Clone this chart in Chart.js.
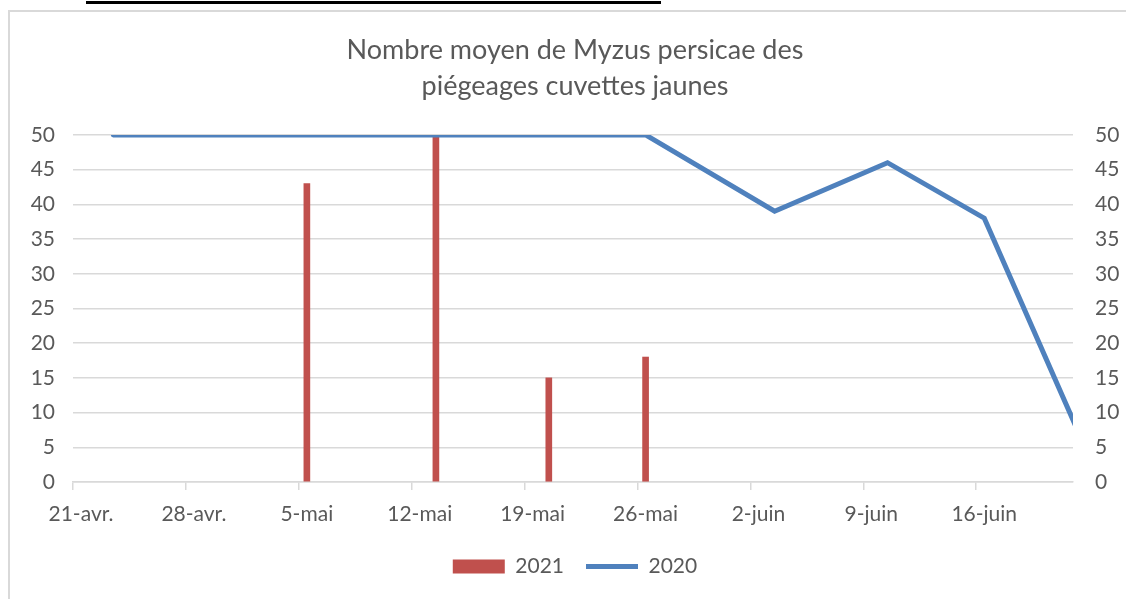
<!DOCTYPE html>
<html>
<head>
<meta charset="utf-8">
<script src="https://cdn.jsdelivr.net/npm/chart.js@4.4.1/dist/chart.umd.min.js"></script>
<style>
  html, body { margin: 0; padding: 0; background: #fff; overflow: hidden; }
  #rule { position: absolute; left: 86px; top: 1px; width: 575px; height: 3px; background: #000; }
  #frame { position: absolute; left: 8px; top: 10px; width: 1300px; height: 800px;
           border-left: 2px solid #d9d9d9; border-top: 2px solid #d9d9d9; }
  #wrap { position: absolute; left: 8px; top: 0; width: 1134px; height: 599px; }
</style>
</head>
<body>
<div id="rule"></div>
<div id="frame"></div>
<div id="wrap"><canvas id="chart"></canvas></div>
<script>
// dates are 'MM-DD', x axis runs from 21-avr. to 22-juin
const axisStart = '04-21';
const axisEnd = '06-22';
const tickDates = ['04-21', '04-28', '05-05', '05-12', '05-19', '05-26', '06-02', '06-09', '06-16'];
const tickLabels = ['21-avr.', '28-avr.', '5-mai', '12-mai', '19-mai', '26-mai', '2-juin', '9-juin', '16-juin'];

const dates2021 = ['05-05', '05-13', '05-20', '05-26'];
const values2021 = [43, 50, 15, 18];

const dates2020 = ['04-23', '05-26', '06-03', '06-10', '06-16', '06-23'];
const values2020 = [50, 50, 39, 46, 38, 1];

const dayOf = s => (Date.UTC(2020, +s.slice(0, 2) - 1, +s.slice(3)) - Date.UTC(2020, 3, 21)) / 864e5;
// a date sits in the middle of its day slot
const points = (dates, values) => dates.map((d, i) => ({ x: dayOf(d) + 0.5, y: values[i] }));

const grey = '#595959';
const lineGrey = '#d9d9d9';
const font = { family: 'Lato', size: 21 };

new Chart(document.getElementById('chart'), {
  type: 'line',
  data: {
    datasets: [
      {
        type: 'bar',
        label: '2021',
        data: points(dates2021, values2021),
        backgroundColor: '#C0504D',
        borderWidth: 0,
        barThickness: 6,
        pointStyle: 'rect',
        order: 1
      },
      {
        label: '2020',
        data: points(dates2020, values2020),
        borderColor: '#4F81BD',
        backgroundColor: '#4F81BD',
        borderWidth: 5,
        borderCapStyle: 'round',
        borderJoinStyle: 'miter',
        pointRadius: 0,
        pointStyle: 'line',
        tension: 0,
        order: 0
      }
    ]
  },
  options: {
    responsive: true,
    maintainAspectRatio: false,
    animation: false,
    layout: { padding: { top: 0, bottom: 12, left: 0, right: 0 } },
    scales: {
      x: {
        type: 'linear',
        min: dayOf(axisStart),
        max: dayOf(axisEnd),
        offset: false,
        afterBuildTicks: s => { s.ticks = tickDates.map(d => ({ value: dayOf(d) })); },
        afterFit: s => { s.height = 52; },
        ticks: {
          callback: (v, i) => tickLabels[i],
          color: grey,
          font: font,
          padding: 12,
          labelOffset: 8,
          maxRotation: 0,
          autoSkip: false
        },
        grid: { drawOnChartArea: false, offset: false, color: lineGrey, lineWidth: 1.5, tickLength: 8 },
        border: { color: lineGrey, width: 1.5 }
      },
      y: {
        position: 'left',
        min: 0,
        max: 50,
        afterFit: s => { s.width = 65; },
        ticks: { stepSize: 5, color: grey, font: font, padding: 18 },
        grid: { color: lineGrey, lineWidth: 1.5, drawTicks: false },
        border: { display: false }
      },
      y2: {
        position: 'right',
        min: 0,
        max: 50,
        afterFit: s => { s.width = 69; },
        ticks: { stepSize: 5, color: grey, font: font, padding: 22 },
        grid: { drawOnChartArea: false, drawTicks: false },
        border: { display: false }
      }
    },
    plugins: {
      title: {
        display: true,
        text: ['Nombre moyen de Myzus persicae des', 'piégeages cuvettes jaunes'],
        color: grey,
        font: { family: 'Lato', size: 27, weight: 'normal', lineHeight: 1.35 },
        padding: { top: 32, bottom: 30 }
      },
      legend: {
        position: 'bottom',
        labels: {
          color: grey,
          font: font,
          usePointStyle: true,
          pointStyleWidth: 52,
          boxHeight: 14,
          padding: 22,
          sort: (a, b) => a.datasetIndex - b.datasetIndex
        }
      },
      tooltip: { enabled: false }
    }
  }
});
</script>
</body>
</html>
